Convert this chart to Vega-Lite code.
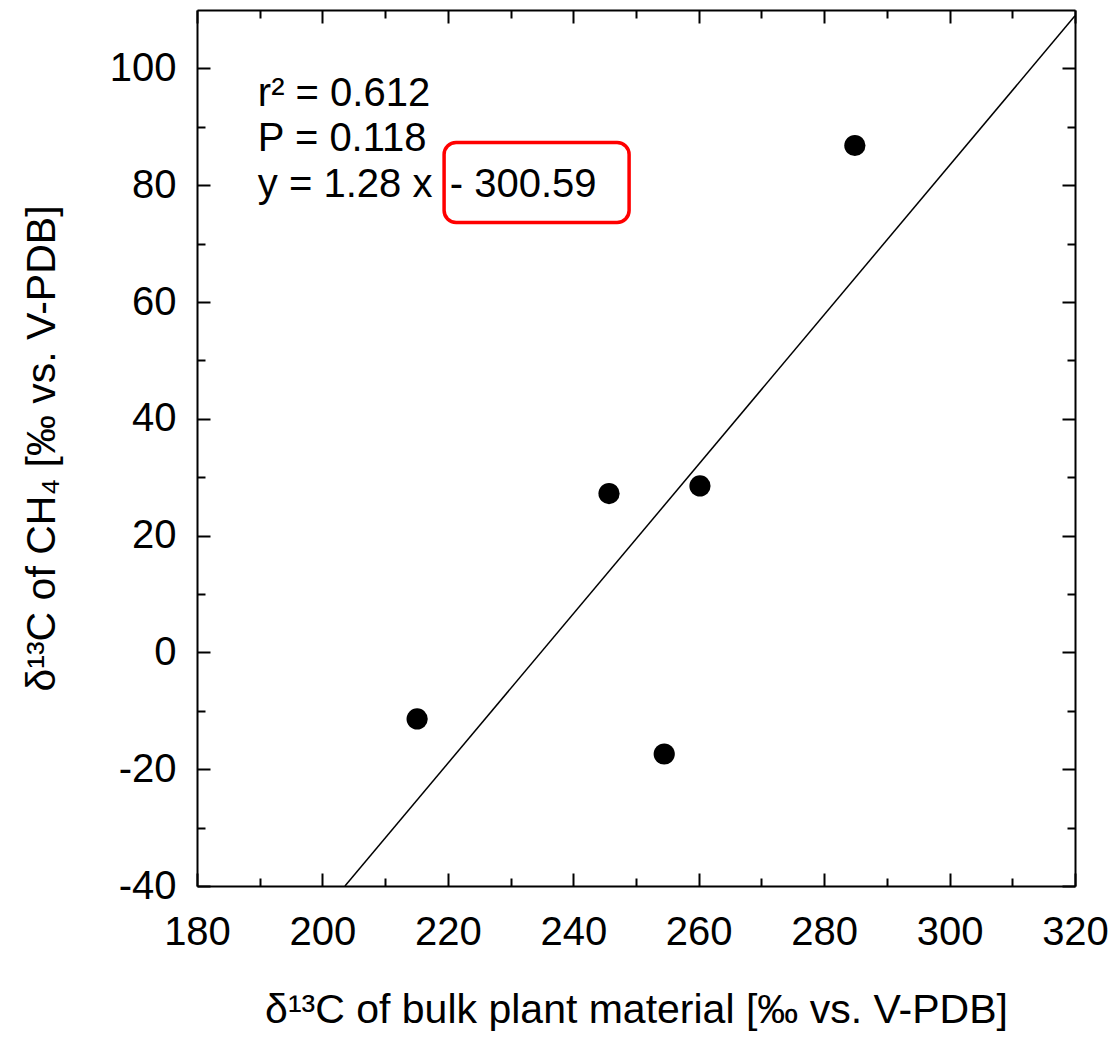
{
  "$schema": "https://vega.github.io/schema/vega-lite/v6.json",
  "width": 878,
  "height": 876,
  "autosize": "none",
  "padding": {"left": 197, "top": 10, "right": 40, "bottom": 151},
  "background": "white",
  "config": {
    "font": "Liberation Sans",
    "view": {"stroke": null},
    "axis": {
      "labelFont": "Liberation Sans",
      "titleFont": "Liberation Sans",
      "labelFontSize": 40,
      "titleFontSize": 41,
      "titleFontWeight": "normal",
      "labelColor": "black",
      "titleColor": "black",
      "domainColor": "black",
      "tickColor": "black",
      "domainWidth": 2,
      "tickWidth": 2,
      "grid": false,
      "labelOverlap": false,
      "labelFlush": false,
      "labelBound": false
    }
  },
  "resolve": {"axis": {"x": "independent", "y": "independent"}},
  "layer": [
    {
      "data": {"values": [
        {"plant": 215.1, "ch4": -11.4},
        {"plant": 245.7, "ch4": 27.2},
        {"plant": 254.5, "ch4": -17.4},
        {"plant": 260.2, "ch4": 28.5},
        {"plant": 284.9, "ch4": 86.8}
      ]},
      "mark": {"type": "circle", "size": 450, "color": "black", "opacity": 1},
      "encoding": {
        "x": {"field": "plant", "type": "quantitative",
          "scale": {"domain": [180, 320], "nice": false, "zero": false},
          "axis": {"orient": "bottom", "values": [180, 200, 220, 240, 260, 280, 300, 320], "ticks": false, "domain": true, "labelPadding": 26, "title": "δ¹³C of bulk plant material [‰ vs. V-PDB]", "titlePadding": 38}},
        "y": {"field": "ch4", "type": "quantitative",
          "scale": {"domain": [-40, 110], "nice": false, "zero": false},
          "axis": {"orient": "left", "values": [-40, -20, 0, 20, 40, 60, 80, 100], "ticks": false, "domain": true, "labelPadding": 21, "labelExpr": "replace(datum.label, '−', '-')", "title": "δ¹³C of CH₄ [‰ vs. V-PDB]", "titlePadding": 46}}
      }
    },
    {
      "data": {"values": [
        {"plant": 203.59, "ch4": -40},
        {"plant": 320, "ch4": 109.01}
      ]},
      "mark": {"type": "line", "color": "black", "strokeWidth": 1.5},
      "encoding": {
        "x": {"field": "plant", "type": "quantitative",
          "scale": {"domain": [180, 320], "nice": false, "zero": false},
          "axis": {"orient": "bottom", "values": [180, 200, 220, 240, 260, 280, 300, 320], "tickSize": -13, "labels": false, "domain": false, "title": null}},
        "y": {"field": "ch4", "type": "quantitative",
          "scale": {"domain": [-40, 110], "nice": false, "zero": false},
          "axis": {"orient": "left", "values": [-40, -20, 0, 20, 40, 60, 80, 100], "tickSize": -13, "labels": false, "domain": false, "title": null}}
      }
    },
    {
      "data": {"values": [
        {"plant": 189.7, "ch4": 93.5, "label": "r² = 0.612"},
        {"plant": 189.7, "ch4": 85.8, "label": "P = 0.118"},
        {"plant": 189.7, "ch4": 78.0, "label": "y = 1.28 x"}
      ]},
      "mark": {"type": "text", "align": "left", "baseline": "alphabetic", "fontSize": 40, "font": "Liberation Sans", "color": "black"},
      "encoding": {
        "x": {"field": "plant", "type": "quantitative",
          "scale": {"domain": [180, 320], "nice": false, "zero": false},
          "axis": {"orient": "bottom", "values": [190, 210, 230, 250, 270, 290, 310], "tickSize": -8, "labels": false, "domain": false, "title": null}},
        "y": {"field": "ch4", "type": "quantitative",
          "scale": {"domain": [-40, 110], "nice": false, "zero": false},
          "axis": {"orient": "left", "values": [-30, -10, 10, 30, 50, 70, 90], "tickSize": -8, "labels": false, "domain": false, "title": null}},
        "text": {"field": "label"}
      }
    },
    {
      "data": {"values": [
        {"plant": 220.3, "ch4": 78.0, "label": "- 300.59"}
      ]},
      "mark": {"type": "text", "align": "left", "baseline": "alphabetic", "fontSize": 40, "font": "Liberation Sans", "color": "black"},
      "encoding": {
        "x": {"field": "plant", "type": "quantitative",
          "scale": {"domain": [180, 320], "nice": false, "zero": false},
          "axis": {"orient": "top", "values": [180, 200, 220, 240, 260, 280, 300, 320], "tickSize": -13, "labels": false, "domain": true, "title": null}},
        "y": {"field": "ch4", "type": "quantitative",
          "scale": {"domain": [-40, 110], "nice": false, "zero": false},
          "axis": {"orient": "right", "values": [-40, -20, 0, 20, 40, 60, 80, 100], "tickSize": -13, "labels": false, "domain": true, "title": null}},
        "text": {"field": "label"}
      }
    },
    {
      "data": {"values": [
        {"plant": 219.4, "plant_end": 248.9, "ch4": 87.3, "ch4_end": 73.6}
      ]},
      "mark": {"type": "rect", "filled": false, "stroke": "#ff0000", "strokeWidth": 3.5, "cornerRadius": 12},
      "encoding": {
        "x": {"field": "plant", "type": "quantitative",
          "scale": {"domain": [180, 320], "nice": false, "zero": false},
          "axis": {"orient": "top", "values": [190, 210, 230, 250, 270, 290, 310], "tickSize": -8, "labels": false, "domain": false, "title": null}},
        "x2": {"field": "plant_end"},
        "y": {"field": "ch4", "type": "quantitative",
          "scale": {"domain": [-40, 110], "nice": false, "zero": false},
          "axis": {"orient": "right", "values": [-30, -10, 10, 30, 50, 70, 90], "tickSize": -8, "labels": false, "domain": false, "title": null}},
        "y2": {"field": "ch4_end"}
      }
    }
  ]
}
